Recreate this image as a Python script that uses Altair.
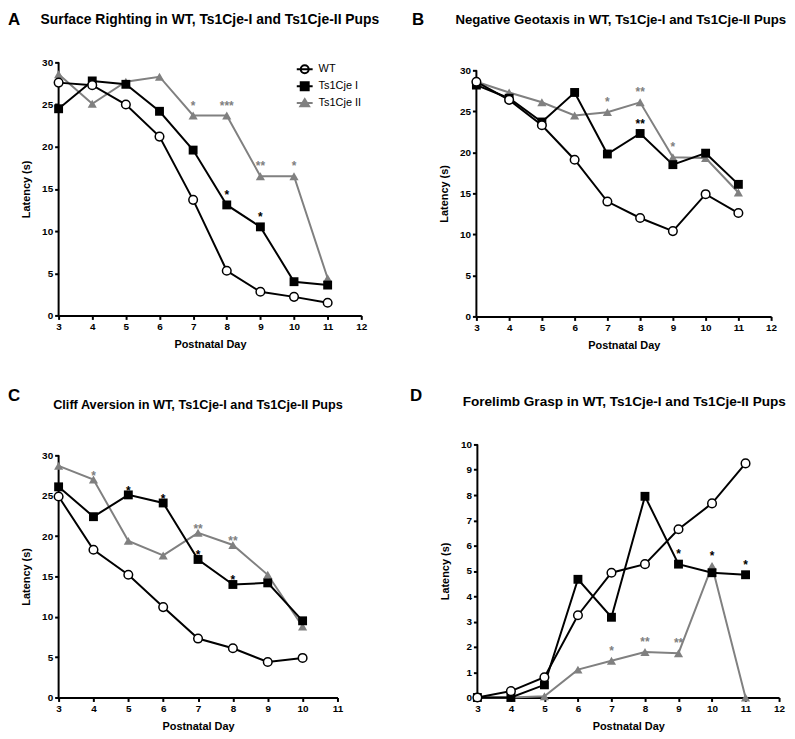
import altair as alt
import pandas as pd

FONT = "Liberation Sans"
BLACK = "#000000"
GRAY = "#808080"
SERIES = ["WT", "Ts1Cje I", "Ts1Cje II"]
COL = {"WT": BLACK, "Ts1Cje I": BLACK, "Ts1Cje II": GRAY}

days_9 = [3, 4, 5, 6, 7, 8, 9, 10, 11]
days_8 = [3, 4, 5, 6, 7, 8, 9, 10]

# Panel A: Surface Righting
A_wt = [27.6, 27.3, 25.0, 21.2, 13.7, 5.3, 2.8, 2.2, 1.5]
A_i = [24.5, 27.8, 27.4, 24.2, 19.6, 13.1, 10.5, 4.0, 3.6]
A_ii = [28.6, 25.1, 27.7, 28.3, 23.7, 23.7, 16.5, 16.5, 4.4]
# Panel B: Negative Geotaxis
B_wt = [28.6, 26.4, 23.3, 19.1, 14.0, 12.0, 10.4, 14.9, 12.6]
B_i = [28.2, 26.6, 23.7, 27.3, 19.8, 22.3, 18.5, 19.9, 16.1]
B_ii = [28.6, 27.3, 26.1, 24.5, 24.9, 26.1, 19.4, 19.3, 15.1]
# Panel C: Cliff Aversion
C_wt = [24.9, 18.3, 15.2, 11.2, 7.3, 6.1, 4.4, 4.9]
C_i = [26.1, 22.4, 25.1, 24.1, 17.1, 14.0, 14.2, 9.5]
C_ii = [28.7, 27.0, 19.4, 17.6, 20.4, 18.9, 15.2, 8.8]
# Panel D: Forelimb Grasp
D_wt = [0.0, 0.25, 0.8, 3.25, 4.93, 5.27, 6.65, 7.67, 9.25]
D_i = [0.0, 0.0, 0.5, 4.67, 3.17, 7.95, 5.27, 4.93, 4.85]
D_ii = [0.0, 0.0, 0.05, 1.1, 1.45, 1.8, 1.75, 5.2, 0.0]

# significance marks: (day, series anchored to, text, colour)
ann_A = [(7, "Ts1Cje II", "*", GRAY), (8, "Ts1Cje II", "***", GRAY), (9, "Ts1Cje II", "**", GRAY),
         (10, "Ts1Cje II", "*", GRAY), (8, "Ts1Cje I", "*", BLACK), (9, "Ts1Cje I", "*", BLACK)]
ann_B = [(7, "Ts1Cje II", "*", GRAY), (8, "Ts1Cje II", "**", GRAY), (9, "Ts1Cje II", "*", GRAY),
         (8, "Ts1Cje I", "**", BLACK)]
ann_C = [(4, "Ts1Cje II", "*", GRAY), (7, "Ts1Cje II", "**", GRAY), (8, "Ts1Cje II", "**", GRAY),
         (5, "Ts1Cje I", "*", BLACK), (6, "Ts1Cje I", "*", BLACK), (7, "Ts1Cje I", "*", BLACK),
         (8, "Ts1Cje I", "*", BLACK)]
ann_D = [(7, "Ts1Cje II", "*", GRAY), (8, "Ts1Cje II", "**", GRAY), (9, "Ts1Cje II", "**", GRAY),
         (9, "Ts1Cje I", "*", BLACK), (10, "Ts1Cje II", "*", BLACK), (11, "Ts1Cje I", "*", BLACK)]

titles = {
    "A": "Surface Righting in WT, Ts1Cje-I and Ts1Cje-II Pups",
    "B": "Negative Geotaxis in WT, Ts1Cje-I and Ts1Cje-II Pups",
    "C": "Cliff Aversion in WT, Ts1Cje-I and Ts1Cje-II Pups",
    "D": "Forelimb Grasp in WT, Ts1Cje-I and Ts1Cje-II Pups",
}

LEG_PATHS = [
    "M-1,0L1,0M-0.5,0A0.5,0.5,0,1,1,0.5,0A0.5,0.5,0,1,1,-0.5,0Z",
    "M-1,0L1,0M-0.5,-0.5L0.5,-0.5L0.5,0.5L-0.5,0.5Z",
    "M-1,0L1,0M0,-0.5L0.55,0.4L-0.55,0.4Z",
]


def make_df(days, wt, s1, s2):
    rows = []
    for name, vals in (("Ts1Cje II", s2), ("Ts1Cje I", s1), ("WT", wt)):
        for d, v in zip(days, vals):
            rows.append({"day": d, "value": v, "series": name})
    return pd.DataFrame(rows)


def make_ann(df, ann):
    rows = []
    for day, anchor, label, col in ann:
        v = df[(df.day == day) & (df.series == anchor)].value.iloc[0]
        rows.append({"day": day, "value": v, "label": label, "col": col})
    return pd.DataFrame(rows)


def panel(df, ann, xmax, ytop, ystep, W, H, Htrue, letter, lpos, ty, tfs, legpos, ann_dy, tdx=0):
    ydom = ytop * H / Htrue
    x = alt.X("day:Q", scale=alt.Scale(domain=[3, xmax], nice=False, zero=False),
              axis=alt.Axis(values=list(range(3, xmax + 1)), format="d", title="Postnatal Day",
                            titlePadding=7, labelFlush=False, labelOverlap=False))
    y = alt.Y("value:Q", scale=alt.Scale(domain=[0, ydom], nice=False),
              axis=alt.Axis(values=list(range(0, ytop + 1, ystep)), format="d", domain=False,
                            title="Latency (s)", titlePadding=10, labelOverlap=False,
                            titleY=H - Htrue / 2))
    layers = []
    # y axis line, spanning the labelled range only
    layers.append(alt.Chart(pd.DataFrame({"day": [3], "value": [0], "hi": [ytop]}))
                  .mark_rule(color=BLACK, strokeWidth=2)
                  .encode(x=x, y=y, y2="hi:Q"))
    for s in ["Ts1Cje II", "Ts1Cje I", "WT"]:
        layers.append(alt.Chart(df).transform_filter(alt.datum.series == s)
                      .mark_line(color=COL[s], strokeWidth=2).encode(x=x, y=y))
    layers.append(alt.Chart(df).transform_filter(alt.datum.series == "Ts1Cje II")
                  .mark_point(shape="triangle-up", filled=True, color=GRAY, size=85, opacity=1)
                  .encode(x=x, y=y))
    layers.append(alt.Chart(df).transform_filter(alt.datum.series == "Ts1Cje I")
                  .mark_point(shape="square", filled=True, color=BLACK, size=80, opacity=1)
                  .encode(x=x, y=y))
    layers.append(alt.Chart(df).transform_filter(alt.datum.series == "WT")
                  .mark_point(shape="circle", filled=False, fill="white", stroke=BLACK,
                              strokeWidth=1.5, size=75, opacity=1)
                  .encode(x=x, y=y))
    adf = make_ann(df, ann)
    for c in (GRAY, BLACK):
        sub = adf[adf.col == c]
        if len(sub):
            layers.append(alt.Chart(sub).mark_text(fontSize=12, fontWeight="bold", font=FONT,
                                                   color=c, baseline="alphabetic", dy=ann_dy)
                          .encode(x=x, y=y, text="label:N"))
    leg = alt.Legend(orient="none", legendX=legpos[0], legendY=legpos[1], title=None,
                     labelFont=FONT, labelFontSize=11, labelColor=BLACK, symbolSize=256,
                     symbolStrokeWidth=2, padding=0, rowPadding=0, labelOffset=5)
    layers.append(alt.Chart(pd.DataFrame({"leg": SERIES})).transform_filter("false")
                  .mark_point(filled=False, opacity=1, size=256, strokeWidth=2)
                  .encode(shape=alt.Shape("leg:N", scale=alt.Scale(domain=SERIES, range=LEG_PATHS), legend=leg),
                          color=alt.Color("leg:N", scale=alt.Scale(domain=SERIES, range=[BLACK, BLACK, GRAY]), legend=leg),
                          fill=alt.Fill("leg:N", scale=alt.Scale(domain=SERIES, range=["white", BLACK, GRAY]), legend=leg)))
    layers.append(alt.Chart(pd.DataFrame({"t": [letter]}))
                  .mark_text(align="left", baseline="alphabetic", fontSize=17, fontWeight="bold",
                             font=FONT, color=BLACK)
                  .encode(x=alt.value(lpos[0]), y=alt.value(lpos[1]), text="t:N"))
    layers.append(alt.Chart(pd.DataFrame({"t": [titles[letter]]}))
                  .mark_text(align="center", baseline="alphabetic", fontSize=tfs, fontWeight="bold",
                             font=FONT, color=BLACK)
                  .encode(x=alt.value(W / 2 + tdx), y=alt.value(ty), text="t:N"))
    return alt.layer(*layers).properties(width=W, height=H)


dfA = make_df(days_9, A_wt, A_i, A_ii)
dfB = make_df(days_9, B_wt, B_i, B_ii)
dfC = make_df(days_8, C_wt, C_i, C_ii)
dfD = make_df(days_9, D_wt, D_i, D_ii)

pA = panel(dfA, ann_A, 12, 30, 5, 305, 255, 255, "A", (-51, -38), -39, 14, (239, -2), -6)
pB = panel(dfB, ann_B, 12, 30, 5, 297, 256, 248, "B", (-65, -38), -39, 13.3, (230, -7), -6, -3)
pC = panel(dfC, ann_C, 11, 30, 5, 281, 255, 244, "C", (-51, -44), -36, 12.8, (216, 3), 0)
pD = panel(dfD, ann_D, 12, 10, 1, 304, 255, 255, "D", (-68, -44), -39, 13.7, (21, 1), -6, -4)

chart = alt.vconcat(
    alt.hconcat(pA, pB, spacing=32),
    alt.hconcat(pC, pD, spacing=67),
    spacing=37,
).properties(padding=0).configure_view(stroke=None).configure_axis(
    domainColor=BLACK, domainWidth=2, tickColor=BLACK, tickWidth=2, tickSize=4,
    labelFont=FONT, labelFontWeight="bold", labelFontSize=10, labelColor=BLACK, labelPadding=2,
    titleFont=FONT, titleFontWeight="bold", titleFontSize=11, titleColor=BLACK, grid=False,
)

chart.save("out.html", embed_options={"renderer": "svg", "actions": False})
